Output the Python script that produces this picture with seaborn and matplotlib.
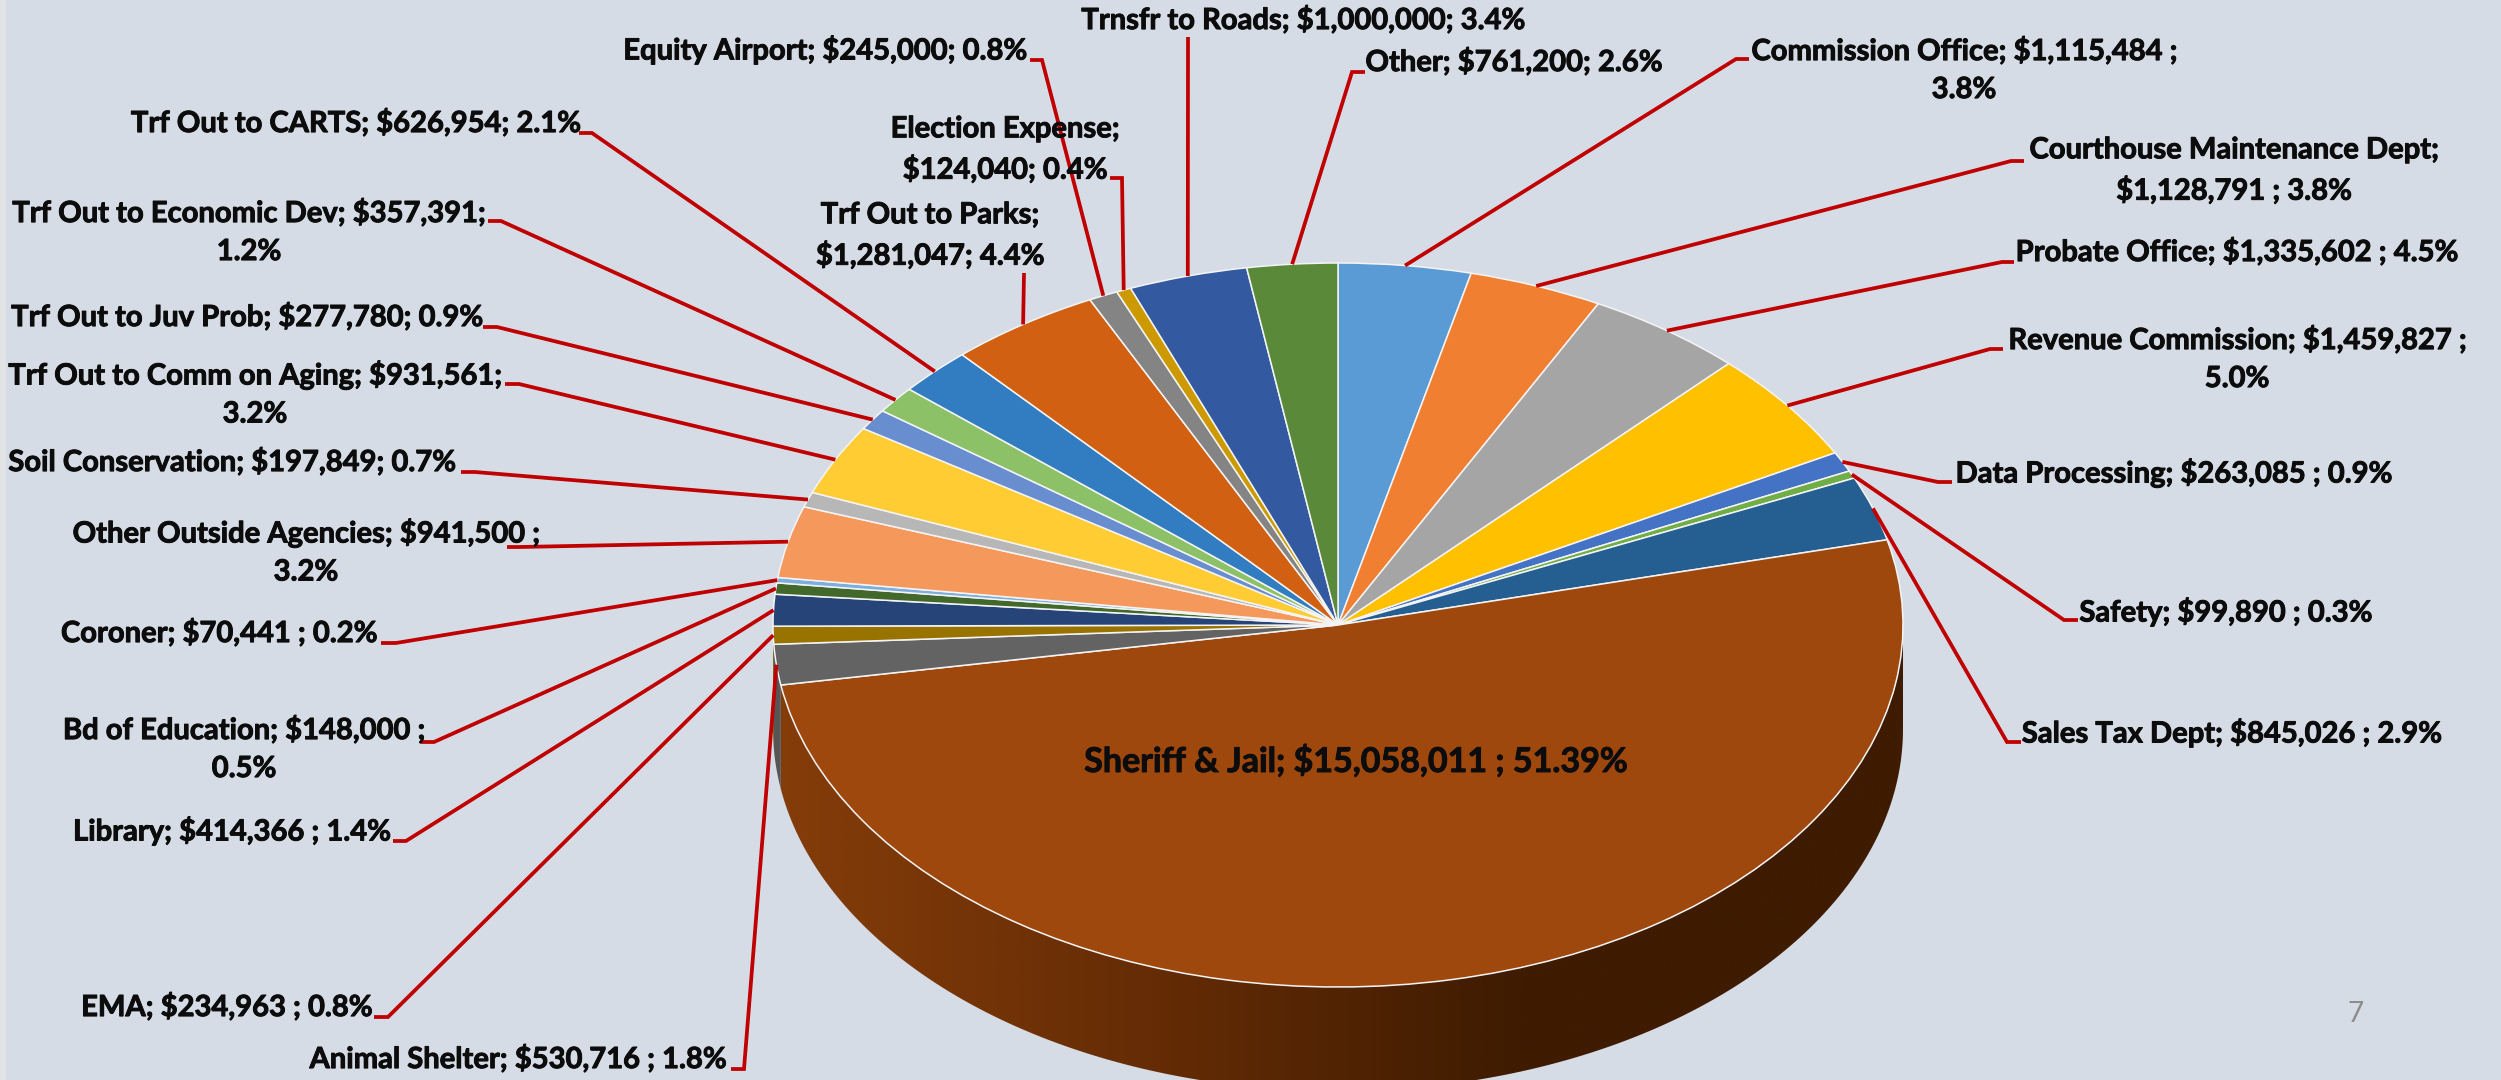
"""
County general fund spending, 3D style pie with leader lines
"""

import numpy as np
import matplotlib
matplotlib.use('Agg')
import matplotlib.pyplot as plt
import matplotlib.patheffects as pe
from matplotlib.colors import LinearSegmentedColormap
from matplotlib.patches import Polygon
import seaborn as sns

# data, clockwise from 12 o'clock
names = ['Commission Office', 'Courthouse Maintenance Dept', 'Probate Office', 'Revenue Commission',
         'Data Processing', 'Safety', 'Sales Tax Dept', 'Sheriff & Jail', 'Animal Shelter', 'EMA',
         'Library', 'Bd of Education', 'Coroner', 'Other Outside Agencies', 'Soil Conservation',
         'Trf Out to Comm on Aging', 'Trf Out to Juv Prob', 'Trf Out to Economic Dev', 'Trf Out to CARTS',
         'Trf Out to Parks', 'Equity Airport', 'Election Expense', 'Trnsfr to Roads', 'Other']
values = [1115484, 1128791, 1335602, 1459827, 263085, 99890, 845026, 15058011, 530716, 234963,
          414366, 148000, 70441, 941500, 197849, 931561, 277780, 357391, 626954, 1281047,
          245000, 124040, 1000000, 761200]
labels = ['Commission Office; $1,115,484 ;\n3.8%', 'Courthouse Maintenance Dept;\n$1,128,791 ; 3.8%',
          'Probate Office; $1,335,602 ; 4.5%', 'Revenue Commission; $1,459,827 ;\n5.0%',
          'Data Processing; $263,085 ; 0.9%', 'Safety; $99,890 ; 0.3%', 'Sales Tax Dept; $845,026 ; 2.9%',
          'Sheriff & Jail; $15,058,011 ; 51.39%', 'Animal Shelter; $530,716 ; 1.8%', 'EMA; $234,963 ; 0.8%',
          'Library; $414,366 ; 1.4%', 'Bd of Education; $148,000 ;\n0.5%', 'Coroner; $70,441 ; 0.2%',
          'Other Outside Agencies; $941,500 ;\n3.2%', 'Soil Conservation; $197,849; 0.7%',
          'Trf Out to Comm on Aging; $931,561;\n3.2%', 'Trf Out to Juv Prob; $277,780; 0.9%',
          'Trf Out to Economic Dev; $357,391;\n1.2%', 'Trf Out to CARTS; $626,954; 2.1%',
          'Trf Out to Parks;\n$1,281,047; 4.4%', 'Equity Airport; $245,000; 0.8%',
          'Election Expense;\n$124,040; 0.4%', 'Trnsfr to Roads; $1,000,000; 3.4%', 'Other; $761,200; 2.6%']
colors = ['#5b9bd5', '#f07f32', '#a5a5a5', '#ffc000', '#4472c4', '#70ad47', '#255e91', '#9e480e',
          '#636363', '#997300', '#264478', '#43682b', '#7cafdd', '#f5985c', '#b7b7b7', '#ffcd33',
          '#698ed0', '#8cc168', '#327dc2', '#d26012', '#848484', '#cc9a00', '#335aa1', '#5a8a39']

# layout in image pixels
label_pos = [(1964, 70), (2234, 171), (2237, 252), (2237, 359), (2174, 473), (2226, 612), (2232, 733),
             (1356, 761), (518, 1059), (227, 1007), (232, 831), (244, 749), (219, 633), (306, 552),
             (232, 462), (255, 394), (247, 317), (249, 232), (356, 123), (930, 236), (825, 50),
             (1005, 150), (1303, 20), (1514, 62)]
# tail next to the label, elbow; None where a slice has no leader or it is a single run
leader_tail = [(1749, 59), (2024, 161), (2014, 262), (2003, 349), (1952, 482), (2078, 620), (2021, 742),
               None, (731, 1069), (374, 1017), (393, 841), (421, 742), (381, 643), (507, 547),
               (461, 472), (505, 384), (483, 327), (488, 221), (579, 133), None, (1030, 60),
               (1110, 178), None, (1365, 72)]
leader_elbow = [(1736, 59), (2011, 161), (2002, 262), (1990, 349), (1938, 482), (2064, 620), (2007, 742),
                None, (744, 1069), (388, 1017), (406, 841), (434, 742), (396, 643), (520, 547),
                (475, 472), (519, 384), (497, 327), (501, 221), (592, 133), (1024, 273), (1042, 60),
                (1122, 178), (1188, 37), (1352, 72)]

BG = '#d6dce5'
WIDTH, HEIGHT = 2501, 1080
CX, CY, RX, RY = 1338, 625, 565, 362
DEPTH = 104 / RY

sns.set_theme(style='white')
plt.rcParams['font.family'] = ['Lato', 'DejaVu Sans']

fig = plt.figure(figsize=(WIDTH / 100, HEIGHT / 100), dpi=100, facecolor=BG)

# pie axes: the unit circle is stretched to the tilted ellipse
ax = fig.add_axes([0, 0, 1, 1])
ax.set_facecolor(BG)
wedges, _ = ax.pie(values, colors=sns.color_palette(colors), startangle=90, counterclock=False,
                   radius=1, wedgeprops={'edgecolor': '#f4f4f4', 'linewidth': 1.1, 'zorder': 3})

# slice angles, clockwise from the top
fracs = np.array(values) / np.sum(values)
ends = np.cumsum(fracs) * 360
starts = ends - fracs * 360
mids = (starts + ends) / 2

# side wall of the front slices
for i in range(len(values)):
    a0, a1 = max(starts[i], 90), min(ends[i], 270)
    if a1 <= a0:
        continue
    t = np.radians(np.linspace(a0, a1, 200))
    top = np.column_stack([np.sin(t), np.cos(t)])
    bot = np.column_stack([np.sin(t), np.cos(t) - DEPTH])[::-1]
    poly = Polygon(np.vstack([top, bot]), closed=True, facecolor='none', edgecolor='none')
    ax.add_patch(poly)
    if names[i] == 'Sheriff & Jail':
        wall_cmap = LinearSegmentedColormap.from_list('wall', ['#853d0a', '#652c05', '#3e1b01', '#3e1b01'])
        im = ax.imshow(np.linspace(0, 1, 512).reshape(1, -1), cmap=wall_cmap, aspect='auto',
                       extent=(-1, 1, -1.4, 1), zorder=1)
        im.set_clip_path(poly)
    else:
        poly.set_facecolor('#565656' if names[i] == 'Animal Shelter' else '#6b5100')
        poly.set_zorder(1)

ax.set_xlim(-CX / RX, (WIDTH - CX) / RX)
ax.set_ylim((CY - HEIGHT) / RY, CY / RY)
ax.set_aspect('auto')
ax.axis('off')

# overlay in image pixels for leaders and labels
ov = fig.add_axes([0, 0, 1, 1])
ov.set_xlim(0, WIDTH)
ov.set_ylim(HEIGHT, 0)
ov.axis('off')
ov.patch.set_alpha(0)

# pale strip down the left edge of the slide
ov.axvspan(0, 6, color='#e2e3e4', lw=0)

heavier = [pe.withStroke(linewidth=0.7, foreground='#0c0c0c')]
for i, name in enumerate(names):
    if name == 'Sheriff & Jail':
        ov.text(*label_pos[i], labels[i], ha='center', va='center', fontsize=24.5, fontweight='bold',
                color='#0c0c0c', path_effects=heavier)
        continue
    rim = (CX + RX * np.sin(np.radians(mids[i])), CY - RY * np.cos(np.radians(mids[i])))
    pts = [p for p in (leader_tail[i], leader_elbow[i]) if p is not None] + [rim]
    xs, ys = zip(*pts)
    ov.plot(xs, ys, color='#c00000', lw=2.7, solid_capstyle='butt', solid_joinstyle='miter', zorder=4)
    ov.text(*label_pos[i], labels[i], ha='center', va='center', fontsize=21, fontweight='bold',
            color='#0c0c0c', linespacing=1.57, path_effects=heavier, zorder=5)

ov.text(2356, 1014, '7', ha='center', va='center', fontsize=20, color='#8c8c8c')

plt.savefig('out.png', dpi=100, facecolor=BG)
